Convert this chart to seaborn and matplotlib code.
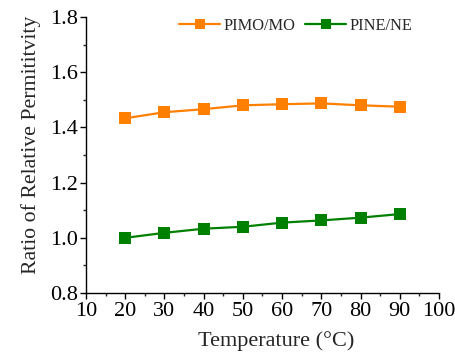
import matplotlib
matplotlib.use("Agg")
import matplotlib.pyplot as plt
import seaborn as sns
import pandas as pd
from matplotlib.ticker import MultipleLocator

temperature = [20, 30, 40, 50, 60, 70, 80, 90]
pimo_mo = [1.433, 1.455, 1.466, 1.480, 1.484, 1.487, 1.480, 1.475]
pine_ne = [1.000, 1.018, 1.033, 1.040, 1.055, 1.063, 1.073, 1.086]
series_names = ["PIMO/MO", "PINE/NE"]
colors = ["#FF8000", "#008000"]

df = pd.DataFrame({
    "Temperature": temperature * 2,
    "Ratio": pimo_mo + pine_ne,
    "Series": [series_names[0]] * len(temperature) + [series_names[1]] * len(temperature),
})

sns.set_style("ticks")
plt.rcParams["font.family"] = ["Liberation Serif", "DejaVu Serif"]

fig = plt.figure(figsize=(4.56, 3.52), dpi=100)
ax = fig.add_axes([0.1886, 0.1676, 0.7741, 0.7841])

sns.lineplot(data=df, x="Temperature", y="Ratio", hue="Series", palette=colors,
             marker="s", markersize=8.5, markeredgewidth=0, linewidth=1.6, ax=ax)

ax.set_xlim(10, 100)
ax.set_ylim(0.8, 1.8)
ax.xaxis.set_major_locator(MultipleLocator(10))
ax.xaxis.set_minor_locator(MultipleLocator(5))
ax.yaxis.set_major_locator(MultipleLocator(0.2))
ax.yaxis.set_minor_locator(MultipleLocator(0.1))
ax.yaxis.set_major_formatter(plt.FuncFormatter(lambda v, p: f"{v:.1f}"))
ax.tick_params(axis="both", which="major", direction="out", length=4.5, width=1,
               labelsize=16, pad=1, colors="black")
ax.tick_params(axis="x", which="major", pad=2)
ax.tick_params(axis="both", which="minor", direction="out", length=2.5, width=1)
for s in ["top", "right"]:
    ax.spines[s].set_visible(False)
for s in ["left", "bottom"]:
    ax.spines[s].set_linewidth(1.0)
    ax.spines[s].set_color("black")

ax.set_xlabel("Temperature (°C)", fontsize=16)
ax.set_ylabel("Ratio of Relative Permititvity", fontsize=15.7)
ax.xaxis.set_label_coords(0.538, -0.138)
ax.yaxis.set_label_coords(-0.128, 0.538)

ax.legend(ncol=2, frameon=False, loc="center", bbox_to_anchor=(0.595, 0.967),
          fontsize=11.8, handlelength=2.5, handletextpad=0.2, columnspacing=0.6,
          borderpad=0, markerscale=0.85)

fig.savefig("out.png", dpi=100)
